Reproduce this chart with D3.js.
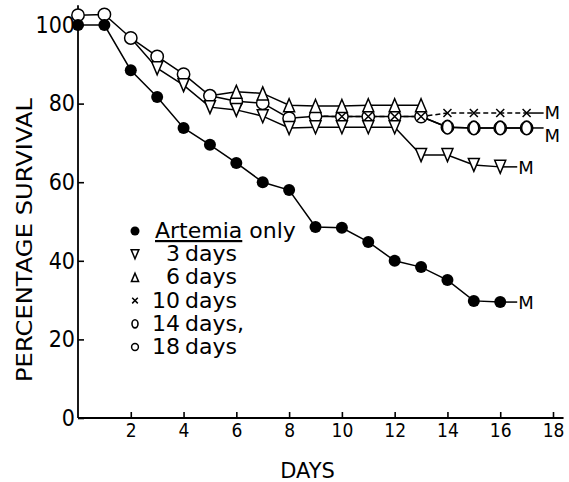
<!DOCTYPE html>
<html>
<head>
<meta charset="utf-8">
<script src="https://cdn.jsdelivr.net/npm/d3@7"></script>
<style>
    body { margin: 0; background: #fff; }
    svg { display: block; }
    .axis path, .axis line { stroke: #000; stroke-width: 1.6; }
    .axis text { font-family: "DejaVu Sans Condensed", "DejaVu Sans", sans-serif; fill: #000; }
    .series { fill: none; stroke: #000; stroke-width: 1.5; }
    .lbl { font-family: "DejaVu Sans", sans-serif; fill: #000; }
</style>
</head>
<body>
<div id="chart"></div>
<script>
// ---- data ----
const artemiaDays = [0, 1, 2, 3, 4, 5, 6, 7, 8, 9, 10, 11, 12, 13, 14, 15, 16];
const artemiaVals = [100, 100, 88.5, 81.7, 73.8, 69.5, 64.9, 60, 58, 48.6, 48.4, 44.8, 40, 38.4, 35.1, 29.8, 29.5];

// first point of each branch is where it leaves the common curve (no marker there)
const days3 = [2, 3, 4, 5, 6, 7, 8, 9, 10, 11, 12, 13, 14, 15, 16];
const vals3 = [96.7, 89, 84.7, 79.1, 78.4, 76.8, 73.8, 74, 74, 74, 74, 66.9, 66.9, 64.4, 63.9];

const days6 = [5, 6, 7, 8, 9, 10, 11, 12, 13];
const vals6 = [82, 83, 82.6, 79.6, 79.4, 79.4, 79.6, 79.6, 79.6];

const days10 = [9, 10, 11, 12, 13, 14, 15, 16, 17];
const vals10 = [76.8, 76.7, 76.7, 76.7, 76.7, 77.6, 77.6, 77.6, 77.6];

const days14 = [13, 14, 15, 16, 17];
const vals14 = [76.7, 74, 73.8, 73.8, 73.8];

const days18 = [0, 1, 2, 3, 4, 5, 6, 7, 8, 9, 10, 11, 12, 13, 14, 15, 16, 17];
const vals18 = [102.5, 102.7, 96.7, 92, 87.5, 82, 80.6, 80.1, 76.3, 76.8, 76.7, 76.7, 76.7, 76.7, 74, 73.8, 73.8, 73.8];

const legendNums = ['', '3', '6', '10', '14', '18'];
const legendWords = ['only', 'days', 'days', 'days', 'days,', 'days'];

const xTicks = [2, 4, 6, 8, 10, 12, 14, 16, 18];
const yTicks = [0, 20, 40, 60, 80, 100];

const series = [
    { days: days18, vals: vals18, start: 0,  marker: 'ocircle', dash: null, endM: false },
    { days: days14, vals: vals14, start: 14, marker: 'ellipse', dash: null, endM: true, mDy: 14 },
    { days: days10, vals: vals10, start: 10, marker: 'cross',   dash: '5,3', endM: true, mDy: 6 },
    { days: days6,  vals: vals6,  start: 6,  marker: 'triup',   dash: null, endM: false },
    { days: days3,  vals: vals3,  start: 3,  marker: 'tridown', dash: null, endM: true, mDy: 7 },
    { days: artemiaDays, vals: artemiaVals, start: 0, marker: 'dot', dash: null, endM: true, mDy: 7 }
];
const legendMarkers = ['dot', 'tridown', 'triup', 'cross', 'ellipse', 'ocircle'];
const legendScale = [0.75, 0.7, 0.65, 0.7, 0.6, 0.55];

// ---- layout ----
const W = 569, H = 482;
const svg = d3.select('#chart').append('svg')
    .attr('width', W)
    .attr('height', H);

const x = d3.scaleLinear().domain([0, 18]).range([78, 553]);
const y = d3.scaleLinear().domain([0, 100]).range([418, 25]);

// --- marker helper ---
function marker(g, type, cx, cy, s) {
    if (type === 'dot') {
        g.append('circle').attr('cx', cx).attr('cy', cy).attr('r', 6 * s).attr('fill', '#000');
    } else if (type === 'ocircle') {
        g.append('circle').attr('cx', cx).attr('cy', cy).attr('r', 6.2 * s)
            .attr('fill', '#fff').attr('stroke', '#000').attr('stroke-width', 1.5);
    } else if (type === 'ellipse') {
        g.append('ellipse').attr('cx', cx).attr('cy', cy).attr('rx', 5 * s).attr('ry', 6.8 * s)
            .attr('fill', '#fff').attr('stroke', '#000').attr('stroke-width', 1.6);
    } else if (type === 'cross') {
        const d = 4 * s;
        g.append('path')
            .attr('d', `M${cx - d},${cy - d}L${cx + d},${cy + d}M${cx - d},${cy + d}L${cx + d},${cy - d}`)
            .attr('stroke', '#000').attr('stroke-width', 1.5);
    } else {
        const w = 5.5 * s, h = 6.5 * s, k = type === 'triup' ? 1 : -1;
        g.append('path')
            .attr('d', `M${cx},${cy - k * h}L${cx + w},${cy + k * h}L${cx - w},${cy + k * h}Z`)
            .attr('fill', '#fff').attr('stroke', '#000').attr('stroke-width', 1.5);
    }
}

// --- axes ---
const yAxis = svg.append('g')
    .attr('class', 'axis')
    .attr('transform', `translate(${x(0)},0)`)
    .call(d3.axisLeft(y).tickValues(yTicks).tickSize(-6).tickSizeOuter(0).tickPadding(3));
yAxis.select('.domain').remove();
yAxis.selectAll('text').attr('font-size', 23);
svg.append('line')
    .attr('x1', x(0)).attr('x2', x(0))
    .attr('y1', y(0)).attr('y2', y(105))
    .attr('stroke', '#000').attr('stroke-width', 1.8);

const xAxis = svg.append('g')
    .attr('class', 'axis')
    .attr('transform', `translate(0,${y(0)})`)
    .call(d3.axisBottom(x).tickValues(xTicks).tickSize(-6).tickSizeOuter(0).tickPadding(6));
xAxis.select('.domain').remove();
xAxis.selectAll('text').attr('font-size', 19);
svg.append('line')
    .attr('x1', x(0)).attr('x2', x(18.4))
    .attr('y1', y(0)).attr('y2', y(0))
    .attr('stroke', '#000').attr('stroke-width', 1.8);

// --- axis labels ---
svg.append('text')
    .attr('class', 'lbl')
    .attr('x', (x(0) + x(18)) / 2 - 8)
    .attr('y', 478)
    .attr('text-anchor', 'middle')
    .attr('font-size', 21)
    .text('DAYS');

svg.append('text')
    .attr('class', 'lbl')
    .attr('transform', 'translate(32,240) rotate(-90)')
    .attr('text-anchor', 'middle')
    .attr('font-size', 22)
    .attr('textLength', 284)
    .attr('lengthAdjust', 'spacingAndGlyphs')
    .text('PERCENTAGE SURVIVAL');

// --- series ---
const line = d3.line().x(d => x(d[0])).y(d => y(d[1]));
const plot = svg.append('g');

series.forEach(s => {
    const pts = s.days.map((d, i) => [d, s.vals[i]]);
    plot.append('path')
        .attr('class', 'series')
        .attr('stroke-dasharray', s.dash)
        .attr('d', line(pts));
    if (s.endM) {
        const last = pts[pts.length - 1];
        plot.append('line')
            .attr('x1', x(last[0])).attr('x2', x(last[0]) + 17)
            .attr('y1', y(last[1])).attr('y2', y(last[1]))
            .attr('stroke', '#000').attr('stroke-width', 1.5);
        plot.append('text')
            .attr('class', 'lbl')
            .attr('x', x(last[0]) + 18)
            .attr('y', y(last[1]) + s.mDy)
            .attr('font-size', 18)
            .text('M');
    }
});
series.forEach(s => {
    s.days.forEach((d, i) => {
        if (d >= s.start) marker(plot, s.marker, x(d), y(s.vals[i]), 1);
    });
});

// --- legend ---
const leg = svg.append('g').attr('transform', 'translate(135,231)');
legendMarkers.forEach((m, i) => {
    const row = leg.append('g').attr('transform', `translate(0,${i * 23.2})`);
    marker(row, m, 0, 0, legendScale[i]);
    if (i === 0) {
        const t = row.append('text').attr('class', 'lbl')
            .attr('x', 20).attr('y', 7).attr('font-size', 22);
        t.append('tspan').style('text-decoration', 'underline').text('Artemia');
        t.append('tspan').text(' ' + legendWords[i]);
    } else {
        row.append('text').attr('class', 'lbl')
            .attr('x', 45).attr('y', 7).attr('font-size', 22)
            .attr('text-anchor', 'end')
            .text(legendNums[i]);
        row.append('text').attr('class', 'lbl')
            .attr('x', 50).attr('y', 7).attr('font-size', 22)
            .text(legendWords[i]);
    }
});
</script>
</body>
</html>
